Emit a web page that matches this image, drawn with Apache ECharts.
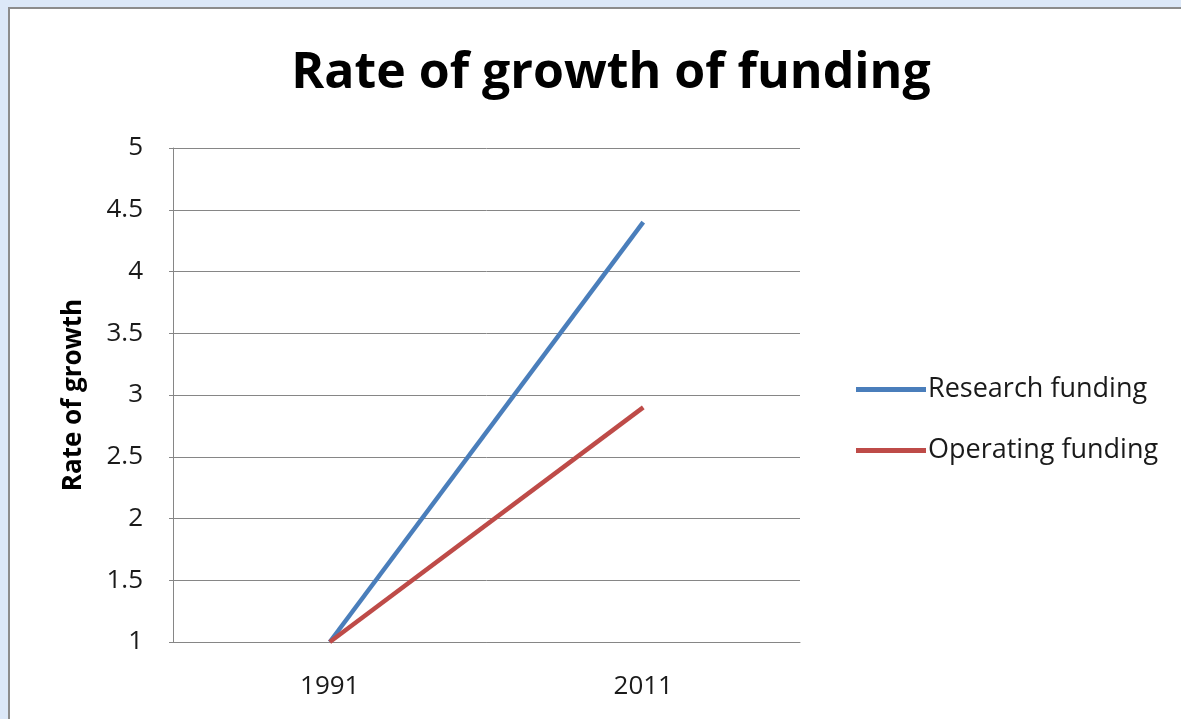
<!DOCTYPE html>
<html>
<head>
<meta charset="utf-8">
<script src="https://cdn.jsdelivr.net/npm/echarts@6/dist/echarts.min.js"></script>
<style>
html,body{margin:0;padding:0;background:#fff;}
#chart{width:1181px;height:719px;}
</style>
</head>
<body>
<div id="chart"></div>
<script>
const categories = ['1991', '2011'];
const researchFunding = [1, 4.4];
const operatingFunding = [1, 2.9];
const seriesNames = ['Research funding', 'Operating funding'];

const chart = echarts.init(document.getElementById('chart'));
const font = '"Open Sans", "Noto Sans", sans-serif';
chart.setOption({
  backgroundColor: '#ffffff',
  animation: false,
  graphic: [
    {type: 'rect', shape: {x: 0, y: 0, width: 1181, height: 7}, style: {fill: '#dce8f8'}, z: 0},
    {type: 'rect', shape: {x: 0, y: 0, width: 8, height: 719}, style: {fill: '#dce8f8'}, z: 0},
    {type: 'rect', shape: {x: 8, y: 7, width: 1173, height: 2}, style: {fill: '#8c8c8c'}, z: 0},
    {type: 'rect', shape: {x: 8, y: 7, width: 2, height: 712}, style: {fill: '#8c8c8c'}, z: 0}
  ],
  title: {
    text: 'Rate of growth of funding',
    left: 606, top: 44, textAlign: 'center',
    textStyle: {fontFamily: font, fontWeight: 'bold', fontSize: 50, color: '#000'}
  },
  legend: {
    orient: 'vertical',
    left: 851, top: 371,
    itemWidth: 70, itemHeight: 5, itemGap: 34,
    icon: 'rect',
    textStyle: {fontFamily: font, fontSize: 27, color: '#1a1a1a', padding: [0, 0, 0, -3]},
    data: seriesNames
  },
  grid: {left: 173, right: 381, top: 148, bottom: 77},
  xAxis: {
    type: 'category',
    data: categories,
    boundaryGap: true,
    axisLine: {lineStyle: {color: '#868686', width: 1}},
    axisTick: {show: false},
    axisLabel: {fontFamily: font, fontSize: 26, color: '#1a1a1a', margin: 32}
  },
  yAxis: {
    type: 'value',
    min: 1, max: 5, interval: 0.5,
    name: 'Rate of growth',
    nameLocation: 'middle',
    nameGap: 86,
    nameRotate: 90,
    nameTextStyle: {fontFamily: font, fontWeight: 'bold', fontSize: 26, color: '#000'},
    axisLine: {show: true, lineStyle: {color: '#868686', width: 1}},
    axisTick: {show: true, length: 4, lineStyle: {color: '#868686'}},
    axisLabel: {fontFamily: font, fontSize: 26, color: '#1a1a1a', margin: 30},
    splitLine: {lineStyle: {color: '#868686', width: 1}}
  },
  series: [
    {name: seriesNames[0], type: 'line', data: researchFunding, symbol: 'none',
     lineStyle: {color: '#4a7ebb', width: 4.5}, itemStyle: {color: '#4a7ebb'}},
    {name: seriesNames[1], type: 'line', data: operatingFunding, symbol: 'none',
     lineStyle: {color: '#be4b48', width: 4.5}, itemStyle: {color: '#be4b48'}}
  ]
});
</script>
</body>
</html>
